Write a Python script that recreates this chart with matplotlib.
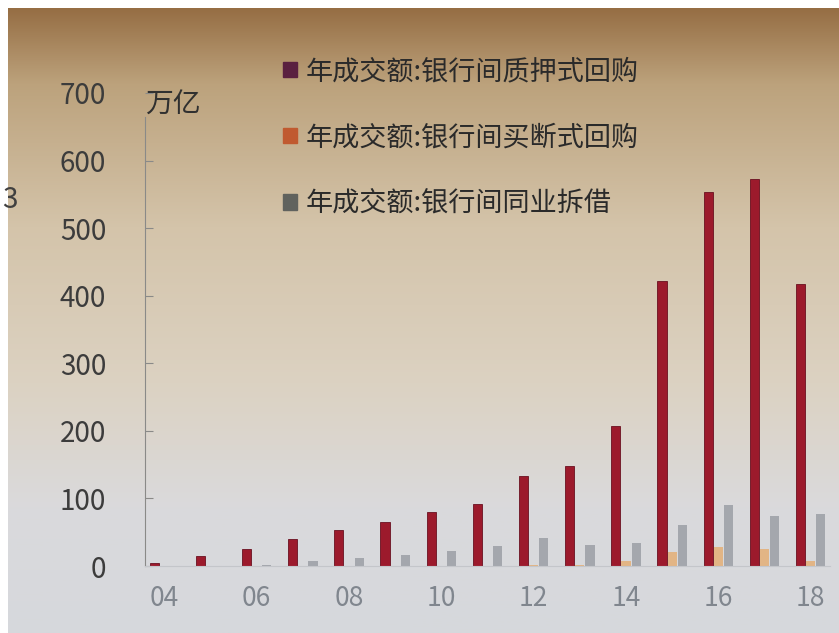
import numpy as np
import matplotlib.pyplot as plt
from matplotlib.patches import Patch

plt.rcParams['font.family'] = ['Noto Sans CJK SC', 'DejaVu Sans']

years = ['04', '05', '06', '07', '08', '09', '10', '11', '12', '13', '14', '15', '16', '17', '18']
pledged = [4, 15, 25, 40, 54, 65, 80, 92, 133, 148, 207, 422, 553, 573, 417]
outright = [0, 0, 0, 0, 0, 0, 0, 0, 1, 2, 8, 20, 28, 25, 7]
interbank = [0, 0.5, 1, 7, 12, 16, 22, 29, 41, 31, 34, 60, 90, 74, 77]
names = ['年成交额:银行间质押式回购', '年成交额:银行间买断式回购', '年成交额:银行间同业拆借']

fig = plt.figure(figsize=(8.39, 6.33), dpi=100)
fig.patch.set_facecolor('white')

# photo-like background (brown at top fading to grey-white)
bg = fig.add_axes([8/839, 0, 831/839, 625/633])
stops = np.array([[150, 110, 68], [188, 162, 124], [212, 196, 170],
                  [220, 210, 194], [218, 218, 220], [214, 216, 220]]) / 255
pos = np.array([0, 0.12, 0.35, 0.6, 0.8, 1.0])
yy = np.linspace(0, 1, 300)
grad = np.stack([np.interp(yy, pos, stops[:, c]) for c in range(3)], axis=1)
bg.imshow(grad[:, None, :], aspect='auto', extent=[0, 1, 1, 0])
bg.set_axis_off()

ax = fig.add_axes([145/839, 67/633, 685/839, 473/633])
ax.patch.set_alpha(0)
x = np.arange(len(years))
w = 0.2
ax.bar(x - 0.22, pledged, w, color='#9c1a2c', edgecolor='#6a1020', linewidth=0.6)
ax.bar(x, outright, w, color='#e2b585')
ax.bar(x + 0.22, interbank, w, color='#a4a7ad')

ax.set_xlim(-0.42, 14.42)
ax.set_ylim(0, 700)
ax.set_yticks(range(0, 701, 100))
ax.set_xticks(x[::2])
ax.set_xticklabels(years[::2])
for s in ['top', 'right']:
    ax.spines[s].set_visible(False)
ax.spines['left'].set_color('#8a8a88')
ax.spines['left'].set_bounds(0, 665)
ax.spines['bottom'].set_color('#c4c6ca')
ax.tick_params(axis='y', direction='in', length=6, color='#8a8a88',
               labelsize=20, labelcolor='#3c3c3c', pad=28)
ax.tick_params(axis='x', length=0, labelsize=19, labelcolor='#80868e', pad=14)

ax.text(0.0, 1.0 - 12/473, '万亿', transform=ax.transAxes, fontsize=20,
        color='#303030', ha='left', va='center')

handles = [Patch(color='#5a2040'), Patch(color='#c05a30'), Patch(color='#60625e')]
fig.legend(handles, names, loc='upper left', bbox_to_anchor=(283/839, 1 - 58/633),
           frameon=False, fontsize=19.5, handlelength=0.5, handleheight=0.5,
           handletextpad=0.35, labelspacing=1.45, labelcolor='#2a2a2a',
           borderpad=0, borderaxespad=0)

fig.text(2/839, 1 - 200/633, '3', fontsize=20, color='#404040', va='center')

fig.savefig('out.png', dpi=100)
